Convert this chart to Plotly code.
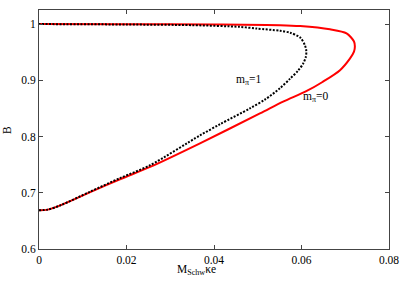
import plotly.graph_objects as go

# red curve (m_pi = 0): lower branch then upper branch
red_x = [0, 0.002, 0.005, 0.0117, 0.0185, 0.0254, 0.0368, 0.0505, 0.0558, 0.0612, 0.0648,
         0.0688, 0.0711, 0.0720, 0.0722, 0.0720, 0.0703, 0.0665, 0.0597, 0.0551, 0.040, 0.020, 0]
red_B = [0.669, 0.670, 0.678, 0.701, 0.724, 0.746, 0.788, 0.841, 0.862, 0.881, 0.897,
         0.918, 0.939, 0.951, 0.960, 0.969, 0.9835, 0.9906, 0.9964, 0.998, 0.9992, 0.9998, 1.0]

# black dotted curve (m_pi = 1)
blk_x = [0, 0.002, 0.005, 0.0117, 0.0185, 0.0254, 0.0368, 0.0414, 0.0482, 0.0517, 0.0551,
         0.0574, 0.0592, 0.0604, 0.0610, 0.0611, 0.0608, 0.0597, 0.0574, 0.0551, 0.0498,
         0.0459, 0.035, 0.020, 0]
blk_B = [0.669, 0.670, 0.678, 0.702, 0.726, 0.749, 0.802, 0.822, 0.850, 0.866, 0.886,
         0.903, 0.917, 0.930, 0.942, 0.952, 0.962, 0.976, 0.9846, 0.988, 0.992,
         0.995, 0.998, 0.9992, 1.0]

x_ticks = [0, 0.02, 0.04, 0.06, 0.08]
x_ticktext = ["0", "0.02", "0.04", "0.06", "0.08"]
y_ticks = [0.6, 0.7, 0.8, 0.9, 1.0]
y_ticktext = ["0.6", "0.7", "0.8", "0.9", "1"]

labels = ["m<sub>π</sub>=1", "m<sub>π</sub>=0"]
label_x = [0.048, 0.0633]
label_y = [0.900, 0.870]

font = "Liberation Serif, Times New Roman, serif"
fs = 11.5

fig = go.Figure()
fig.add_trace(go.Scatter(x=red_x, y=red_B, mode="lines",
                         line=dict(color="#ff0000", width=2, shape="spline", smoothing=0.8),
                         showlegend=False))
fig.add_trace(go.Scatter(x=blk_x, y=blk_B, mode="lines",
                         line=dict(color="black", width=2, dash="2px,1.5px",
                                   shape="spline", smoothing=0.8),
                         showlegend=False))

for t, lx, ly in zip(labels, label_x, label_y):
    fig.add_annotation(x=lx, y=ly, text=t, showarrow=False,
                       font=dict(family=font, size=fs, color="black"))

# axis titles
fig.add_annotation(x=0.036, y=-0.052, xref="x", yref="paper", yanchor="top",
                   text="M<sub>Schw</sub>κe", showarrow=False,
                   font=dict(family=font, size=fs, color="black"))
fig.add_annotation(x=-0.093, y=0.5, xref="paper", yref="paper", xanchor="center",
                   text="B", textangle=-90, showarrow=False,
                   font=dict(family=font, size=fs, color="black"))

axis_common = dict(showgrid=False, zeroline=False, showline=True, linecolor="#444",
                   linewidth=1, mirror="ticks", ticks="inside", ticklen=4,
                   tickcolor="#444", automargin=False,
                   tickfont=dict(family=font, size=fs, color="black"))

fig.update_xaxes(range=[0, 0.08], tickvals=x_ticks, ticktext=x_ticktext, **axis_common)
fig.update_yaxes(range=[0.6, 1.025], tickvals=y_ticks, ticktext=y_ticktext, **axis_common)

fig.update_layout(width=403, height=283, margin=dict(l=39, r=14, t=10, b=34),
                  plot_bgcolor="white", paper_bgcolor="white",
                  font=dict(family=font, size=fs, color="black"))

fig.write_html("out.html", config={"displayModeBar": False},
               post_script="document.body.style.margin='0';document.body.style.overflow='hidden';")
